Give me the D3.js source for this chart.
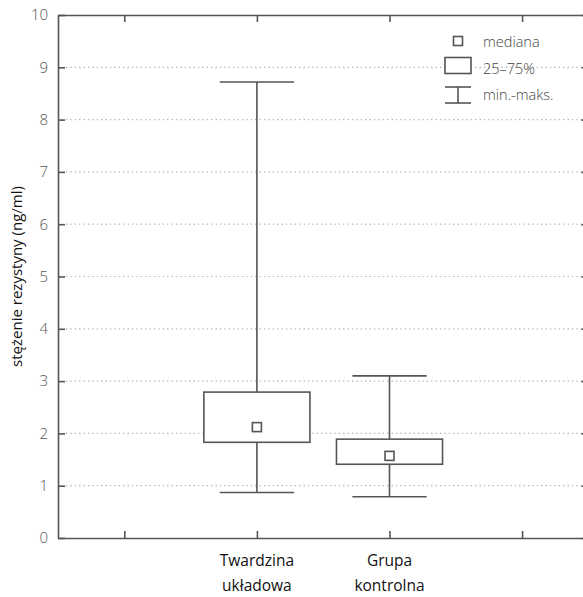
<!DOCTYPE html>
<html>
<head>
<meta charset="utf-8">
<script src="https://cdn.jsdelivr.net/npm/d3@7"></script>
<style>
  body { margin: 0; background: #fff; }
  svg text { font-family: "Open Sans", "Noto Sans", sans-serif; }
</style>
</head>
<body>
<div id="chart"></div>
<script>
// data
var categories = [["Twardzina", "układowa"], ["Grupa", "kontrolna"]];
var catPos = [2, 3];
var mins = [0.87, 0.79];
var q1s = [1.83, 1.41];
var medians = [2.12, 1.57];
var q3s = [2.79, 1.89];
var maxs = [8.72, 3.10];
var yTicks = [0, 1, 2, 3, 4, 5, 6, 7, 8, 9, 10];
var xTicks = [1, 2, 3, 4];
var legendLabels = ["mediana", "25–75%", "min.-maks."];

var W = 583, H = 597;
var plotLeft = 58, plotTop = 15, plotBottom = 538, plotRight = 588.4;
var axisCol = '#555';

var svg = d3.select('#chart').append('svg')
  .attr('width', W).attr('height', H);

var x = d3.scaleLinear().domain([0.5, 4.5]).range([plotLeft, plotRight]);
var y = d3.scaleLinear().domain([0, 10]).range([plotBottom, plotTop]);

// grid lines
svg.append('g').selectAll('line')
  .data(yTicks.filter(function(d) { return d > 0 && d < 10; }))
  .enter().append('line')
  .attr('x1', plotLeft + 8).attr('x2', plotRight)
  .attr('y1', function(d) { return y(d); })
  .attr('y2', function(d) { return y(d); })
  .attr('stroke', '#aaa')
  .attr('stroke-width', 1.2)
  .attr('stroke-dasharray', '1.2,3.2');

// axes, ticks pointing inwards
var axLeft = d3.axisLeft(y).tickValues(yTicks).tickSizeInner(-7).tickSizeOuter(0).tickPadding(10);
var axRight = d3.axisRight(y).tickValues(yTicks).tickSizeInner(-7).tickSizeOuter(0).tickFormat('');
var axBottom = d3.axisBottom(x).tickValues(xTicks).tickSizeInner(-7).tickSizeOuter(0).tickFormat('');
var axTop = d3.axisTop(x).tickValues(xTicks).tickSizeInner(-7).tickSizeOuter(0).tickFormat('');

var gl = svg.append('g').attr('transform', 'translate(' + plotLeft + ',0)').call(axLeft);
svg.append('g').attr('transform', 'translate(' + plotRight + ',0)').call(axRight);
svg.append('g').attr('transform', 'translate(0,' + plotBottom + ')').call(axBottom);
svg.append('g').attr('transform', 'translate(0,' + plotTop + ')').call(axTop);

svg.selectAll('.domain').attr('stroke', axisCol).attr('stroke-width', 1.6);
svg.selectAll('.tick line').attr('stroke', axisCol).attr('stroke-width', 1.6);
gl.selectAll('.tick text')
  .attr('fill', '#555')
  .style('font-size', '15px')
  .style('font-weight', 300);

// y axis title
svg.append('text')
  .attr('transform', 'translate(22,' + ((plotTop + plotBottom) / 2) + ') rotate(-90)')
  .attr('text-anchor', 'middle')
  .attr('fill', '#111')
  .style('font-size', '15px')
  .text('stężenie rezystyny (ng/ml)');

// category labels
var step = x(1) - x(0);
categories.forEach(function(lines, i) {
  var t = svg.append('text')
    .attr('text-anchor', 'middle')
    .attr('fill', '#111')
    .style('font-size', '15.5px');
  lines.forEach(function(s, j) {
    t.append('tspan')
      .attr('x', x(catPos[i]))
      .attr('y', 566 + j * 25)
      .text(s);
  });
});

// boxes
var boxW = step * 0.8, capW = step * 0.56, medS = 9;
var g = svg.append('g')
  .attr('stroke', axisCol)
  .attr('stroke-width', 1.6)
  .attr('fill', '#fff');

catPos.forEach(function(p, i) {
  var cx = x(p);
  g.append('line').attr('x1', cx).attr('x2', cx).attr('y1', y(maxs[i])).attr('y2', y(q3s[i]));
  g.append('line').attr('x1', cx).attr('x2', cx).attr('y1', y(q1s[i])).attr('y2', y(mins[i]));
  g.append('line').attr('x1', cx - capW / 2).attr('x2', cx + capW / 2).attr('y1', y(maxs[i])).attr('y2', y(maxs[i]));
  g.append('line').attr('x1', cx - capW / 2).attr('x2', cx + capW / 2).attr('y1', y(mins[i])).attr('y2', y(mins[i]));
  g.append('rect')
    .attr('x', cx - boxW / 2).attr('width', boxW)
    .attr('y', y(q3s[i])).attr('height', y(q1s[i]) - y(q3s[i]));
  g.append('rect')
    .attr('x', cx - medS / 2).attr('y', y(medians[i]) - medS / 2)
    .attr('width', medS).attr('height', medS);
});

// legend
var lg = svg.append('g');
var lx = 458, tx = 483;
lg.append('rect').attr('x', lx - 4.5).attr('y', 36.5).attr('width', 9).attr('height', 9)
  .attr('fill', '#fff').attr('stroke', axisCol).attr('stroke-width', 1.6);
lg.append('rect').attr('x', lx - 13).attr('y', 57.5).attr('width', 26).attr('height', 16)
  .attr('fill', '#fff').attr('stroke', axisCol).attr('stroke-width', 1.6);
lg.append('line').attr('x1', lx - 13).attr('x2', lx + 13).attr('y1', 87).attr('y2', 87)
  .attr('stroke', axisCol).attr('stroke-width', 1.6);
lg.append('line').attr('x1', lx - 13).attr('x2', lx + 13).attr('y1', 103).attr('y2', 103)
  .attr('stroke', axisCol).attr('stroke-width', 1.6);
lg.append('line').attr('x1', lx).attr('x2', lx).attr('y1', 87).attr('y2', 103)
  .attr('stroke', axisCol).attr('stroke-width', 1.6);

lg.selectAll('text.leg')
  .data(legendLabels)
  .enter().append('text')
  .attr('class', 'leg')
  .attr('x', tx)
  .attr('y', function(d, i) { return 47 + i * 26.5; })
  .attr('fill', '#444')
  .style('font-size', '14.5px')
  .style('font-weight', 300)
  .text(function(d) { return d; });
</script>
</body>
</html>
